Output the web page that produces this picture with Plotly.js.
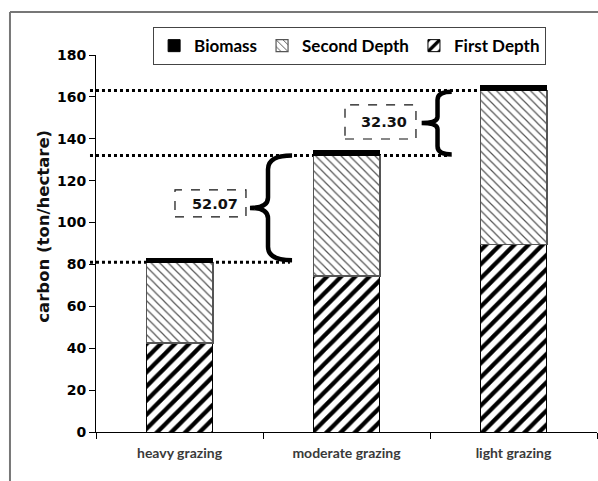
<!DOCTYPE html>
<html>
<head>
<meta charset="utf-8">
<script src="https://cdn.plot.ly/plotly-3.0.1.min.js"></script>
<style>html,body{margin:0;padding:0;background:#fff;}#chart{width:598px;height:481px;}</style>
</head>
<body>
<div id="chart"></div>
<script>
// ---- data ----
var categories = ["heavy grazing", "moderate grazing", "light grazing"];
var firstDepth = [42.5, 74.5, 89.5];
var secondDepth = [38.5, 57.5, 73.5];
var biomass = [2.0, 2.5, 2.5];
var diffLabels = ["52.07", "32.30"];
var yTicks = [0, 20, 40, 60, 80, 100, 120, 140, 160, 180];
var yTitle = "carbon (ton/hectare)";

var idx = categories.map(function (c, i) { return i; });
var soilTop = firstDepth.map(function (v, i) { return v + secondDepth[i]; });

var F = "DejaVu Sans";
var traces = [
  {
    type: "bar", name: "First Depth", x: idx, y: firstDepth, width: 0.4,
    marker: { color: "#fff", line: { color: "#000", width: 1 },
      pattern: { shape: "/", fgcolor: "#000", bgcolor: "#fff", size: 10, solidity: 0.42 } }
  },
  {
    type: "bar", name: "Second Depth", x: idx, y: secondDepth, width: 0.4,
    marker: { color: "#fff", line: { color: "#555", width: 1.2 },
      pattern: { shape: "\\", fgcolor: "#555", bgcolor: "#fff", size: 6, solidity: 0.2 } }
  },
  {
    type: "bar", name: "Biomass", x: idx, y: biomass, width: 0.4,
    marker: { color: "#000", line: { color: "#000", width: 1 } }
  }
];

function brace(xStem, xTip, xEnd, yBot, yTop) {
  var h = yTop - yBot, d = h * 0.13, dm = h * 0.1, mid = (yTop + yBot) / 2;
  return "M" + xEnd + "," + yTop +
    " Q" + xStem + "," + yTop + " " + xStem + "," + (yTop - d) +
    " L" + xStem + "," + (mid + dm) +
    " Q" + xStem + "," + mid + " " + xTip + "," + mid +
    " Q" + xStem + "," + mid + " " + xStem + "," + (mid - dm) +
    " L" + xStem + "," + (yBot + d) +
    " Q" + xStem + "," + yBot + " " + xEnd + "," + yBot;
}

var dotEnds = [0.387, 0.7066, 0.766];
var shapes = [
  // outer frame
  { type: "line", xref: "paper", yref: "paper", x0: -0.1717, x1: -0.1717, y0: 1.114, y1: -0.2, line: { color: "#777", width: 2 } },
  { type: "line", xref: "paper", yref: "paper", x0: -0.1717, x1: 1.01, y0: 1.114, y1: 1.114, line: { color: "#777", width: 2 } }
];
soilTop.forEach(function (v, i) {
  shapes.push({ type: "line", layer: "below", xref: "paper", yref: "y", x0: -0.012, x1: dotEnds[i], y0: v, y1: v,
    line: { color: "#000", width: 3, dash: "dot" } });
});
shapes.push({ type: "path", xref: "x", yref: "y", path: brace(0.53, 0.422, 0.674, soilTop[0] + 1, soilTop[1]), line: { color: "#000", width: 4.5 } });
shapes.push({ type: "path", xref: "x", yref: "y", path: brace(1.545, 1.45, 1.63, soilTop[1] + 0.5, soilTop[2] - 0.5), line: { color: "#000", width: 4.5 } });
shapes.push({ type: "rect", xref: "x", yref: "y", x0: -0.027, x1: 0.398, y0: 102.7, y1: 115.6, line: { color: "#111", width: 1.2, dash: "dash" } });
shapes.push({ type: "rect", xref: "x", yref: "y", x0: 0.991, x1: 1.416, y0: 139.9, y1: 156.2, line: { color: "#111", width: 1.2, dash: "dash" } });

var annotations = [
  { xref: "x", yref: "y", x: 0.21, y: 109.1, text: diffLabels[0], showarrow: false, font: { family: F, size: 14.5, weight: "bold", color: "#111" } },
  { xref: "x", yref: "y", x: 1.225, y: 148.0, text: diffLabels[1], showarrow: false, font: { family: F, size: 14.5, weight: "bold", color: "#111" } },
  { xref: "paper", yref: "paper", x: -0.1277, y: 0.546, text: yTitle, textangle: -90, showarrow: false,
    font: { family: F, size: 16.5, weight: "bold", color: "#111" } }
];

var layout = {
  width: 598, height: 481,
  margin: { l: 96, r: 1, t: 55, b: 49 },
  paper_bgcolor: "#fff", plot_bgcolor: "#fff",
  barmode: "stack",
  showlegend: true,
  legend: {
    orientation: "h", x: 0.114, y: 1.074, xanchor: "left", yanchor: "top",
    traceorder: "reversed", bgcolor: "#fff", bordercolor: "#444", borderwidth: 1,
    font: { family: "Lato", size: 17, weight: "bold", color: "#000" }
  },
  xaxis: {
    type: "linear", range: [-0.5, 2.5], tickmode: "array", tickvals: idx, ticktext: categories,
    ticks: "", showline: true, linecolor: "#000", linewidth: 1, showgrid: false, zeroline: false,
    ticklabelstandoff: 8,
    tickfont: { family: "Lato", size: 14, weight: "bold", color: "#3a3a3a" },
    minor: { tickmode: "array", tickvals: [-0.5, 0.5, 1.5, 2.5], ticks: "outside", ticklen: 6, tickcolor: "#000", showgrid: false }
  },
  yaxis: {
    range: [0, 180], tickmode: "array", tickvals: yTicks,
    ticks: "outside", ticklen: 6, tickcolor: "#000", showline: true, linecolor: "#000", linewidth: 1,
    showgrid: false, zeroline: false,
    tickfont: { family: F, size: 14, weight: "bold", color: "#000" }
  },
  shapes: shapes,
  annotations: annotations
};

Plotly.newPlot("chart", traces, layout, { displayModeBar: false, staticPlot: true });
</script>
</body>
</html>
